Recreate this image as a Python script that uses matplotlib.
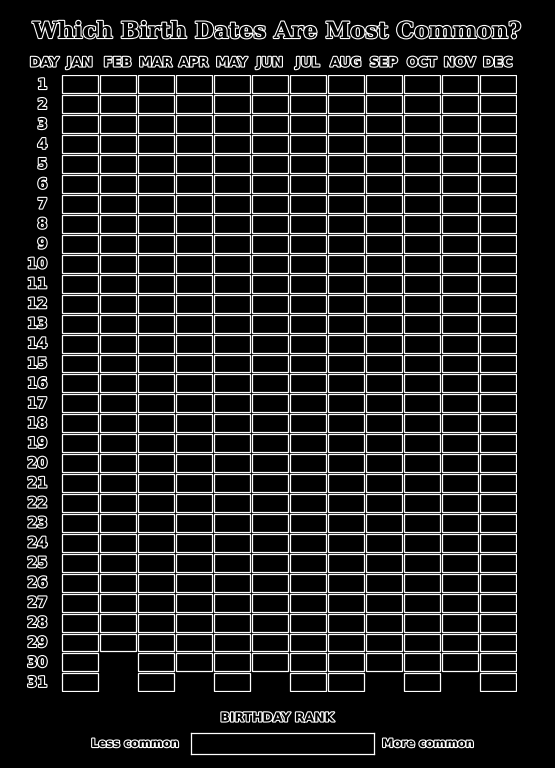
import matplotlib
matplotlib.use("Agg")
import matplotlib.pyplot as plt
import matplotlib.patheffects as pe
import matplotlib.transforms as mtransforms
import numpy as np

months = ["JAN", "FEB", "MAR", "APR", "MAY", "JUN",
          "JUL", "AUG", "SEP", "OCT", "NOV", "DEC"]
days_in_month = [31, 29, 31, 30, 31, 30, 31, 31, 30, 31, 30, 31]
day_labels = [str(d) for d in range(1, 32)]

title = "Which Birth Dates Are Most Common?"
legend_title = "BIRTHDAY RANK"
low_label = "Less common"
high_label = "More common"

W, H = 555, 768
outline = [pe.withStroke(linewidth=1.6, foreground="white")]


def fx(px):
    return px / W


def fy(py):
    return 1 - py / H


fig = plt.figure(figsize=(W / 100, H / 100), dpi=100, facecolor="black")

# calendar grid, one outlined cell per day
ax = fig.add_axes([fx(60.8), fy(692.3), 456 / W, 617.8 / H])
ax.set_facecolor("black")
for i, n in enumerate(days_in_month):
    d = np.arange(1, n + 1)
    ax.bar(np.full(n, i), 0.90, bottom=d - 0.45, width=0.95,
           facecolor="black", edgecolor="white", linewidth=0.9)
ax.set_xlim(-0.5, 11.5)
ax.set_ylim(31.5, 0.5)
ax.axis("off")

# month header
tr_x = mtransforms.blended_transform_factory(ax.transData, fig.transFigure)
for i, m in enumerate(months):
    ax.text(i, fy(63), m, transform=tr_x, ha="center", va="center",
            fontsize=9.5, fontweight="bold", color="black",
            path_effects=outline)
fig.text(fx(44.5), fy(63), "DAY", ha="center", va="center",
         fontsize=9.5, fontweight="bold", color="black", path_effects=outline)

# day labels
tr_y = mtransforms.blended_transform_factory(fig.transFigure, ax.transData)
for d, lab in enumerate(day_labels, start=1):
    ax.text(fx(47.5), d, lab, transform=tr_y, ha="right", va="center",
            fontsize=10.5, fontweight="bold", color="black",
            path_effects=outline)

fig.text(fx(277), fy(32), title, ha="center", va="center",
         fontsize=16.2, fontweight="bold", family="DejaVu Serif",
         color="black", path_effects=outline)

# legend
fig.text(fx(277), fy(718), legend_title, ha="center", va="center",
         fontsize=9, fontweight="bold", color="black", path_effects=outline)
cax = fig.add_axes([fx(191.5), fy(753.5), (373.8 - 191.5) / W, 20.3 / H])
cax.set_facecolor("black")
cax.set_xticks([])
cax.set_yticks([])
for s in cax.spines.values():
    s.set_color("white")
    s.set_linewidth(0.9)
fig.text(fx(179), fy(743.5), low_label, ha="right", va="center",
         fontsize=8.3, fontweight="bold", color="black", path_effects=outline)
fig.text(fx(382), fy(743.5), high_label, ha="left", va="center",
         fontsize=8.3, fontweight="bold", color="black", path_effects=outline)

fig.savefig("out.png", dpi=100, facecolor="black")
